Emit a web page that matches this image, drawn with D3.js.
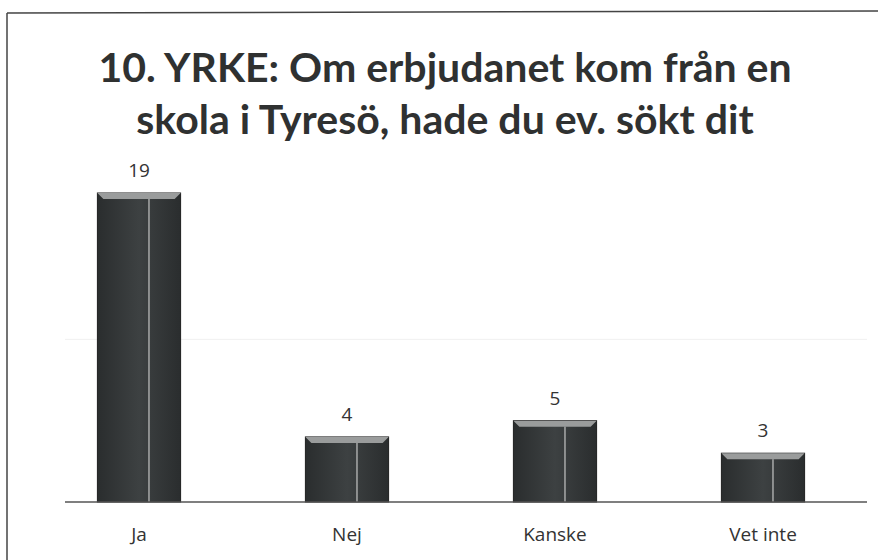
<!DOCTYPE html>
<html>
<head>
<meta charset="utf-8">
<script src="https://cdn.jsdelivr.net/npm/d3@7"></script>
<style>
  body { margin: 0; background: #fff; }
  svg { display: block; }
</style>
</head>
<body>
<div id="chart"></div>
<script>
// chart values
const titleLines = ['10. YRKE: Om erbjudanet kom från en', 'skola i Tyresö, hade du ev. sökt dit'];
const categories = ['Ja', 'Nej', 'Kanske', 'Vet inte'];
const values = [19, 4, 5, 3];

const width = 878;
const height = 560;

const svg = d3.select('#chart')
  .append('svg')
  .attr('width', width)
  .attr('height', height);

// bar shading
const defs = svg.append('defs');
const grad = defs.append('linearGradient')
  .attr('id', 'barGrad')
  .attr('x1', 0).attr('x2', 1).attr('y1', 0).attr('y2', 0);
grad.append('stop').attr('offset', '0%').attr('stop-color', '#2a2d2e');
grad.append('stop').attr('offset', '50%').attr('stop-color', '#3d4142');
grad.append('stop').attr('offset', '100%').attr('stop-color', '#2a2d2e');

// frame (top and left edge of the scanned chart area)
svg.append('line')
  .attr('x1', 7).attr('x2', width).attr('y1', 13).attr('y2', 11)
  .attr('stroke', '#444').attr('stroke-width', 1.5);
svg.append('line')
  .attr('x1', 7).attr('x2', 7).attr('y1', 13).attr('y2', height)
  .attr('stroke', '#444').attr('stroke-width', 1.5);

// title
svg.append('g')
  .selectAll('text')
  .data(titleLines)
  .enter()
  .append('text')
  .attr('x', 445)
  .attr('y', (d, i) => 82 + i * 52)
  .attr('text-anchor', 'middle')
  .attr('font-family', 'Lato, sans-serif')
  .attr('font-weight', 'bold')
  .attr('font-size', 41)
  .attr('fill', '#2f3131')
  .text(d => d);

const x = d3.scaleBand()
  .domain(categories)
  .range([35, 867])
  .paddingInner(0.6)
  .paddingOuter(0.3);

const y = d3.scaleLinear()
  .domain([0, 19])
  .range([502, 193]);

// faint gridline
svg.append('g')
  .selectAll('line')
  .data([10])
  .enter()
  .append('line')
  .attr('x1', 65).attr('x2', 867)
  .attr('y1', d => y(d)).attr('y2', d => y(d))
  .attr('stroke', '#f0f0f0').attr('stroke-width', 1);

const bar = svg.append('g')
  .selectAll('.bar')
  .data(values)
  .enter()
  .append('g')
  .attr('class', 'bar');

bar.append('rect')
  .attr('x', (d, i) => x(categories[i]))
  .attr('y', d => y(d))
  .attr('width', x.bandwidth())
  .attr('height', d => y(0) - y(d))
  .attr('fill', 'url(#barGrad)')
  .attr('stroke', '#1e1e1e')
  .attr('stroke-width', 1);

// light bevel on the top edge
bar.append('path')
  .attr('d', (d, i) => {
    const x0 = x(categories[i]);
    const x1 = x0 + x.bandwidth();
    const t = y(d);
    return `M${x0},${t}L${x1},${t}L${x1 - 6},${t + 6}L${x0 + 6},${t + 6}Z`;
  })
  .attr('fill', '#9a9c9c');

// vertical light streaks
bar.append('line')
  .attr('x1', (d, i) => x(categories[i]) + x.bandwidth() * 0.62)
  .attr('x2', (d, i) => x(categories[i]) + x.bandwidth() * 0.62)
  .attr('y1', d => y(d) + 6)
  .attr('y2', y(0))
  .attr('stroke', '#d8d8d8')
  .attr('stroke-width', 1.5)
  .attr('opacity', 0.7);

// value labels
bar.append('text')
  .attr('x', (d, i) => x(categories[i]) + x.bandwidth() / 2)
  .attr('y', d => y(d) - 16)
  .attr('text-anchor', 'middle')
  .attr('font-family', 'Open Sans, sans-serif')
  .attr('font-size', 19)
  .attr('fill', '#333')
  .text(d => d);

// baseline + category labels
const xAxis = svg.append('g')
  .attr('transform', `translate(0,${y(0)})`)
  .call(d3.axisBottom(x).tickSize(0).tickPadding(26));
xAxis.select('.domain')
  .attr('d', 'M65,0H867')
  .attr('stroke', '#555')
  .attr('stroke-width', 1.5);
xAxis.selectAll('text')
  .attr('font-family', 'Open Sans, sans-serif')
  .attr('font-size', 19)
  .attr('fill', '#333');
</script>
</body>
</html>
